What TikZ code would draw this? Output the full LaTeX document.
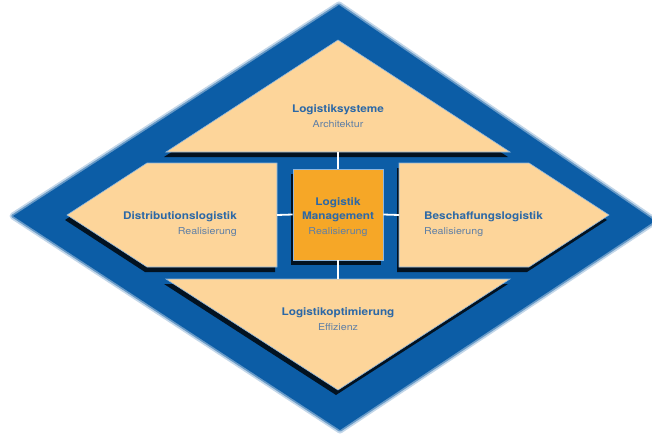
\documentclass[tikz,border=0pt]{standalone}
\usepackage{fontspec}
\setmainfont{TeX Gyre Heros}[FakeStretch=1.12]
\usetikzlibrary{positioning}
\definecolor{ringblue}{HTML}{0C5DA6}
\definecolor{rimblue}{HTML}{8DB6DE}
\definecolor{panelbeige}{HTML}{FDD59A}
\definecolor{coreorange}{HTML}{F6A727}
\definecolor{titleblue}{HTML}{2C68A6}
\definecolor{subblue}{HTML}{5F7FA5}
\tikzset{panel/.style={fill=panelbeige, draw=rimblue, line width=0.6pt},
  dropshadow/.style={fill=black, opacity=0.8, xshift=-2pt, yshift=-5pt},
  boxtitle/.style={text=titleblue, inner sep=0pt, font=\bfseries\fontsize{10.5}{12}\selectfont},
  boxsub/.style={text=subblue, inner sep=0pt, font=\fontsize{9.5}{11}\selectfont},
  link/.style={white, line width=1.8pt}}

\begin{document}
\begin{tikzpicture}[x=1pt, y=-1pt]
      \useasboundingbox (0, 0) rectangle (652, 433);
      % outer diamond, soft rim
      \draw [ringblue, line width=7pt, opacity=0.25, line join=round] (339, 5) -- (655, 221) -- (340, 430) -- (13, 216) -- cycle;
      \draw [ringblue, line width=3.5pt, opacity=0.5, line join=round] (339, 5) -- (655, 221) -- (340, 430) -- (13, 216) -- cycle;
      \fill [ringblue] (339, 5) -- (655, 221) -- (340, 430) -- (13, 216) -- cycle;
      % shadows
      \fill [dropshadow] (166, 152) -- (338, 40) -- (510, 152) -- cycle;
      \fill [dropshadow] (67, 215) -- (147, 163) -- (277, 163) -- (277, 267) -- (147, 267) -- cycle;
      \fill [dropshadow] (609, 215) -- (529, 163) -- (399, 163) -- (399, 267) -- (529, 267) -- cycle;
      \fill [dropshadow] (166, 279) -- (510, 279) -- (338, 390) -- cycle;
      \fill [dropshadow] (293, 169) rectangle (383, 260);
      % panels
      \draw [panel] (166, 152) -- (338, 40) -- (510, 152) -- cycle;
      \draw [panel] (67, 215) -- (147, 163) -- (277, 163) -- (277, 267) -- (147, 267) -- cycle;
      \draw [panel] (609, 215) -- (529, 163) -- (399, 163) -- (399, 267) -- (529, 267) -- cycle;
      \draw [panel] (166, 279) -- (510, 279) -- (338, 390) -- cycle;
      \node [draw=rimblue, line width=0.6pt, fill=coreorange, minimum width=90pt, minimum height=91pt, inner sep=0pt] (core) at (338, 214.5) {};
      % connectors
      \coordinate (topbase) at (338, 152);
      \coordinate (lowtop) at (338, 279);
      \coordinate (leftedge) at (277, 215);
      \coordinate (rightedge) at (399, 215);
      \draw [link] (topbase) -- (core.north);
      \draw [link] (core.south) -- (lowtop);
      \draw [link] (leftedge) -- (core.west);
      \draw [link] (core.east) -- (rightedge);
      % labels
      \node [boxtitle, anchor=base] (systitle) at (338, 112) {Logistiksysteme};
      \node [boxsub, anchor=base] (syssub) at ([yshift=-15.5pt]systitle.base) {Architektur};
      \node [boxtitle, anchor=base east] (disttitle) at (237, 219.5) {Distributionslogistik};
      \node [boxsub, anchor=base east] (distsub) at ([yshift=-15pt]disttitle.base east) {Realisierung};
      \node [boxtitle, anchor=base west] (beschtitle) at (424, 219) {Beschaffungslogistik};
      \node [boxsub, anchor=base west] (beschsub) at ([yshift=-15.5pt]beschtitle.base west) {Realisierung};
      \node [boxtitle, anchor=base] (coretitle) at (338, 205) {Logistik};
      \node [boxtitle, anchor=base] (coremgmt) at ([yshift=-14.5pt]coretitle.base) {Management};
      \node [boxsub, anchor=base] (coresub) at ([yshift=-15pt]coremgmt.base) {Realisierung};
      \node [boxtitle, anchor=base] (opttitle) at (338, 315) {Logistikoptimierung};
      \node [boxsub, anchor=base] (optsub) at ([yshift=-15pt]opttitle.base) {Effizienz};
\end{tikzpicture}
\end{document}
